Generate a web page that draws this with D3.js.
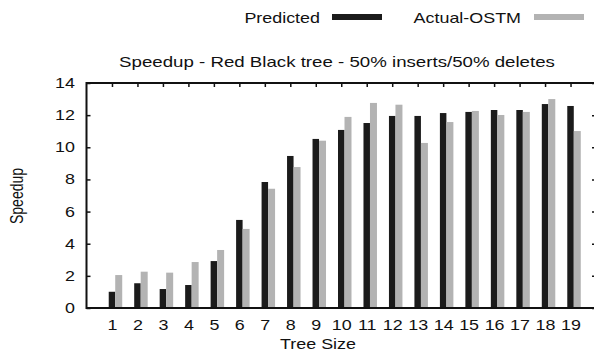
<!DOCTYPE html>
<html>
<head>
<meta charset="utf-8">
<script src="https://cdn.jsdelivr.net/npm/d3@7"></script>
<style>
  body { margin: 0; background: #fff; }
  text { font-family: "Liberation Sans", Arial, sans-serif; fill: #111; }
</style>
</head>
<body>
<div id="chart"></div>
<script>
// tree sizes on the x axis
var sizes = [1, 2, 3, 4, 5, 6, 7, 8, 9, 10, 11, 12, 13, 14, 15, 16, 17, 18, 19];
var predicted = [1.01, 1.54, 1.18, 1.43, 2.92, 5.48, 7.84, 9.46, 10.52, 11.08, 11.51, 11.95, 11.95, 12.13, 12.2, 12.32, 12.32, 12.69, 12.57];
var actual = [2.05, 2.26, 2.2, 2.86, 3.61, 4.92, 7.42, 8.77, 10.41, 11.89, 12.76, 12.65, 10.27, 11.57, 12.26, 12.01, 12.2, 13.0, 11.01];
var yTicks = [0, 2, 4, 6, 8, 10, 12, 14];

var w = 594, h = 352;
var sx = 1.28; // text in the picture looks stretched sideways
var svg = d3.select('#chart').append('svg').attr('width', w).attr('height', h);

var x = d3.scaleLinear().domain([0, 20]).range([86.5, 596]);
var y = d3.scaleLinear().domain([0, 14]).range([308, 83]);
var bw = 0.255; // bar width in x units

//bars
svg.selectAll('rect.pred').data(predicted).enter().append('rect')
  .attr('class', 'pred')
  .attr('x', function (d, i) { return x(sizes[i] - bw / 2); })
  .attr('width', x(bw) - x(0))
  .attr('y', function (d) { return y(d); })
  .attr('height', function (d) { return y(0) - y(d); })
  .attr('fill', '#1b1b1b');

svg.selectAll('rect.act').data(actual).enter().append('rect')
  .attr('class', 'act')
  .attr('x', function (d, i) { return x(sizes[i] + bw / 2); })
  .attr('width', x(bw) - x(0) + 0.5)
  .attr('y', function (d) { return y(d); })
  .attr('height', function (d) { return y(0) - y(d); })
  .attr('fill', '#b3b3b3');

//axes - inward ticks, mirrored on top/right
var axLeft = d3.axisLeft(y).tickValues(yTicks).tickSize(-4).tickPadding(9);
var axRight = d3.axisRight(y).tickValues(yTicks).tickSize(-4).tickFormat('');
var axBottom = d3.axisBottom(x).tickValues(sizes).tickSize(0).tickPadding(12);
var axTop = d3.axisTop(x).tickValues(sizes).tickSize(-4).tickFormat('');

function styleAxis(g) {
  g.select('.domain').remove();
  g.selectAll('line').attr('stroke', '#111').attr('stroke-width', 1.5);
  g.selectAll('text').style('font-size', '14px').attr('fill', '#111')
    .attr('transform', 'scale(' + sx + ',1)');
}

svg.append('g').attr('transform', 'translate(86.5,0)').call(axLeft).call(styleAxis);
svg.append('g').attr('transform', 'translate(596,0)').call(axRight).call(styleAxis);
svg.append('g').attr('transform', 'translate(0,308)').call(axBottom).call(styleAxis);
svg.append('g').attr('transform', 'translate(0,83)').call(axTop).call(styleAxis);

// frame
svg.append('rect')
  .attr('x', 86.5).attr('y', 83)
  .attr('width', 596 - 86.5).attr('height', 308 - 83)
  .attr('fill', 'none').attr('stroke', '#111').attr('stroke-width', 2);

function label(tx, ty, str, anchor, size, rot) {
  var t = 'translate(' + tx + ',' + ty + ')' + (rot ? ' rotate(-90) scale(1,' + sx + ')' : ' scale(' + sx + ',1)');
  return svg.append('text').attr('transform', t).attr('text-anchor', anchor)
    .style('font-size', size + 'px').text(str);
}

//title + labels
label(337, 67, 'Speedup - Red Black tree - 50% inserts/50% deletes', 'middle', 14.6);
label(318, 349, 'Tree Size', 'middle', 14);
label(23, 196, 'Speedup', 'middle', 14, true);

//legend
var legend = [
  { name: 'Predicted', color: '#1b1b1b', tx: 320, rx: 332 },
  { name: 'Actual-OSTM', color: '#b3b3b3', tx: 521, rx: 534 }
];
legend.forEach(function (l) {
  label(l.tx, 23, l.name, 'end', 14);
  svg.append('rect').attr('x', l.rx).attr('y', 14).attr('width', 50).attr('height', 6)
    .attr('fill', l.color);
});
</script>
</body>
</html>
